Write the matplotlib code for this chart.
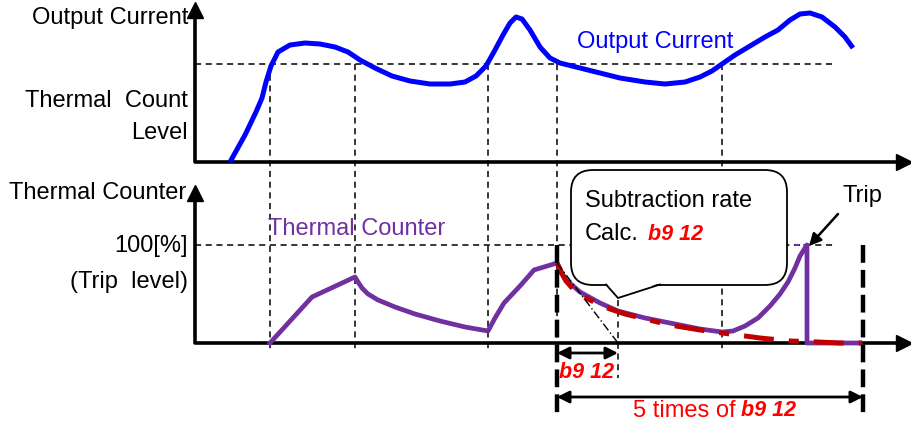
import numpy as np
import matplotlib.pyplot as plt
from matplotlib.patches import FancyBboxPatch, Polygon

plt.rcParams['font.family'] = ['Liberation Sans', 'DejaVu Sans']

# canvas is in pixel units of the original picture (y grows downward)
# output current curve
cur_x = [230, 245, 256, 262, 266, 271, 278, 290, 305, 320, 335, 348, 360, 375, 392, 410, 430,
         450, 465, 476, 486, 495, 503, 510, 516, 522, 530, 540, 550, 560, 580, 600, 620, 645,
         665, 685, 700, 712, 722, 735, 750, 765, 778, 790, 800, 810, 822, 835, 845, 853]
cur_y = [162, 135, 112, 98, 82, 66, 52, 45, 43, 44, 47, 52, 60, 68, 76, 81, 84,
         84, 82, 76, 66, 50, 35, 23, 17, 19, 30, 47, 58, 63, 68, 73, 78, 82,
         84, 82, 77, 71, 64, 55, 46, 37, 30, 20, 14, 13, 17, 27, 37, 48]

# thermal counter curve
thc_x = [270, 312, 355, 358, 362, 368, 378, 395, 415, 440, 465, 488, 495, 504, 520, 534, 557,
         565, 580, 600, 618, 645, 675, 700, 722, 733, 745, 758, 770, 780, 788, 795, 800, 805, 807,
         807, 830, 860]
thc_y = [343, 297, 277, 282, 288, 294, 300, 307, 314, 321, 327, 331, 318, 303, 286, 270, 263,
         279, 292, 303, 311, 318, 324, 329, 332, 331, 326, 318, 306, 294, 282, 268, 256, 248, 245,
         343, 343, 343]

# subtraction (decay) curve
dec_x = [557, 561, 566, 574, 584, 596, 610, 625, 645, 670, 700, 730, 760, 790, 818, 840, 862]
dec_y = [263, 272, 281, 290, 297, 303, 309, 314, 319, 325, 330, 334, 338, 341, 342, 343, 343]

# vertical guide positions
guide_x = [270, 355, 488, 557, 722]
level_y = 64
trip_y = 245

code = "b9 12"

fig = plt.figure(figsize=(9.11, 4.26), dpi=100)
ax = fig.add_axes([0, 0, 1, 1])
ax.set_xlim(0, 911)
ax.set_ylim(426, 0)
ax.axis('off')

fs = 17
cfs = 15.5
blue = '#0000ff'
purple = '#7030a0'
dred = '#c00000'
red = '#ff0000'

# dashed guides
ax.plot([195, 833], [level_y, level_y], color='black', lw=1.1, ls=(0, (4, 3)))
ax.plot([195, 833], [trip_y, trip_y], color='black', lw=1.1, ls=(0, (4, 3)))
for gx in guide_x:
    ax.plot([gx, gx], [level_y, 352], color='black', lw=1.1, ls=(0, (4, 3)))
ax.plot([618, 618], [300, 378], color='black', lw=1.1, ls=(0, (4, 3)))

# axes with arrows
ax.plot([195, 195, 900], [8, 162, 162], color='black', lw=2.6, solid_capstyle='butt')
ax.plot([195], [10], marker='^', color='black', ms=11)
ax.plot([904], [162], marker='>', color='black', ms=11)
ax.plot([195, 195, 900], [192, 343, 343], color='black', lw=2.6, solid_capstyle='butt')
ax.plot([195], [193], marker='^', color='black', ms=11)
ax.plot([904], [343], marker='>', color='black', ms=11)

# curves
ax.plot(cur_x, cur_y, color=blue, lw=3.6, solid_capstyle='butt', solid_joinstyle='round')
ax.plot(thc_x, thc_y, color=purple, lw=3.4, solid_joinstyle='round')
ax.plot([795, 808], [trip_y, trip_y], color=purple, lw=1.5, ls=(0, (2, 2)))
ax.plot(dec_x, dec_y, color=dred, lw=3.6, ls=(0, (6, 3, 2, 3)))
ax.plot([557, 618], [263, 343], color='black', lw=1.0, ls=(0, (6, 2, 1, 2)))

# thick dashed markers for time span
for gx in [557, 863]:
    ax.plot([gx, gx], [trip_y, 418], color='black', lw=3.2, ls=(0, (4, 1.6)))

# arrows
ax.annotate('', xy=(557, 353), xytext=(618, 353),
            arrowprops=dict(arrowstyle='<|-|>', color='black', lw=2, mutation_scale=18,
                            shrinkA=0, shrinkB=0))
ax.annotate('', xy=(557, 397), xytext=(863, 397),
            arrowprops=dict(arrowstyle='<|-|>', color='black', lw=2, mutation_scale=18,
                            shrinkA=0, shrinkB=0))
ax.annotate('', xy=(809, 246), xytext=(838, 214),
            arrowprops=dict(arrowstyle='-|>', color='black', lw=1.8, mutation_scale=18,
                            shrinkA=0, shrinkB=0))

# callout
box = FancyBboxPatch((571, 170), 216, 115, boxstyle='round,pad=0,rounding_size=22',
                     facecolor='white', edgecolor='black', lw=1.3, zorder=5)
ax.add_patch(box)
ax.add_patch(Polygon([[606, 283], [618, 298], [660, 283]], closed=False,
                     facecolor='white', edgecolor='none', zorder=6))
ax.plot([606, 618, 660], [284.5, 298, 284.5], color='black', lw=1.3, zorder=7)
ax.text(585, 201, "Subtraction rate", fontsize=fs, va='center', ha='left', zorder=8)
ax.text(585, 234, "Calc.", fontsize=fs, va='center', ha='left', zorder=8)
ax.text(648, 234, code, fontsize=cfs, va='center', ha='left', color=red,
        fontweight='bold', fontstyle='italic', zorder=8)

# labels
ax.text(188, 18, "Output Current", fontsize=fs, ha='right', va='center')
ax.text(188, 101, "Thermal  Count", fontsize=fs, ha='right', va='center')
ax.text(188, 133, "Level", fontsize=fs, ha='right', va='center')
ax.text(655, 42, "Output Current", fontsize=fs, ha='center', va='center', color=blue)
ax.text(186, 193, "Thermal Counter", fontsize=fs, ha='right', va='center')
ax.text(268, 229, "Thermal Counter", fontsize=fs, ha='left', va='center', color=purple)
ax.text(188, 246, "100[%]", fontsize=fs, ha='right', va='center')
ax.text(188, 282, "(Trip  level)", fontsize=fs, ha='right', va='center')
ax.text(862, 196, "Trip", fontsize=fs, ha='center', va='center')
ax.text(587, 373, code, fontsize=cfs, ha='center', va='center', color=red,
        fontweight='bold', fontstyle='italic')
ax.text(736, 411, "5 times of", fontsize=fs, ha='right', va='center', color=red)
ax.text(741, 411, code, fontsize=cfs, ha='left', va='center', color=red,
        fontweight='bold', fontstyle='italic')

fig.savefig('out.png', dpi=100)
